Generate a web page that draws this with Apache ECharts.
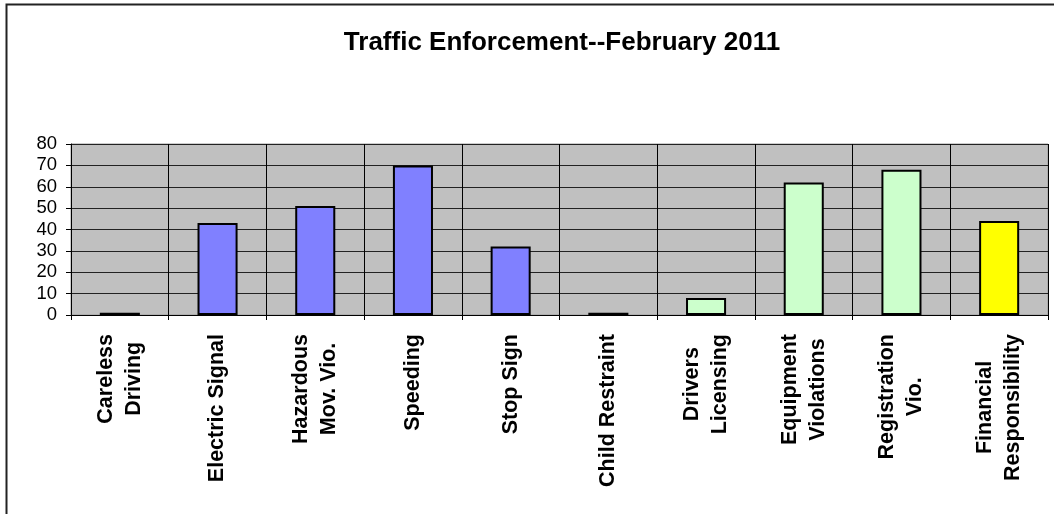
<!DOCTYPE html>
<html>
<head>
<meta charset="utf-8">
<script src="https://cdn.jsdelivr.net/npm/echarts@6/dist/echarts.min.js"></script>
<style>
  html, body { margin: 0; padding: 0; background: #fff; }
  #chart { width: 1054px; height: 514px; }
</style>
</head>
<body>
<div id="chart"></div>
<script>
const titleText = 'Traffic Enforcement--February 2011';
const categories = [
  'Careless\nDriving', 'Electric Signal', 'Hazardous\nMov. Vio.', 'Speeding', 'Stop Sign',
  'Child Restraint', 'Drivers\nLicensing', 'Equipment\nViolations', 'Registration\nVio.', 'Financial\nResponsibility'
];
const values = [1, 43, 51, 70, 32, 1, 8, 62, 68, 44];
const groups = ['moving', 'moving', 'moving', 'moving', 'moving', 'moving', 'equipment', 'equipment', 'equipment', 'financial'];
const yTicks = [0, 10, 20, 30, 40, 50, 60, 70, 80];

const groupColors = { moving: '#8080FF', equipment: '#CCFFCC', financial: '#FFFF00' };

const chart = echarts.init(document.getElementById('chart'), null, { renderer: 'canvas' });
const FONT = '"Liberation Sans", Arial, sans-serif';

chart.setOption({
  animation: false,
  backgroundColor: '#ffffff',
  title: {
    text: titleText,
    left: 557,
    top: 25,
    textAlign: 'center',
    textStyle: { fontFamily: FONT, fontSize: 26, fontWeight: 'bold', color: '#000' }
  },
  graphic: [{
    type: 'rect',
    shape: { x: 6.5, y: 4.5, width: 1200, height: 700 },
    style: { fill: 'none', stroke: '#222', lineWidth: 2 },
    silent: true, z: 100
  }],
  grid: {
    left: 71, right: 6, top: 144, bottom: 199,
    show: true, backgroundColor: '#C0C0C0', borderColor: '#9a9a9a', borderWidth: 1
  },
  xAxis: {
    type: 'category',
    data: categories,
    boundaryGap: true,
    axisLine: { show: true, lineStyle: { color: '#000', width: 1 } },
    axisTick: { show: true, length: 5, lineStyle: { color: '#000' } },
    splitLine: { show: true, lineStyle: { color: '#000', width: 1 } },
    axisLabel: {
      interval: 0,
      rotate: 90,
      margin: 19,
      formatter: function (v) {
        return v.split('\n').map(function (s) { return '{c|' + s + '}'; }).join('\n');
      },
      rich: {
        c: { align: 'center', fontFamily: FONT, fontSize: 21.5, fontWeight: 'bold', color: '#000', lineHeight: 28 }
      }
    }
  },
  yAxis: {
    type: 'value',
    min: yTicks[0],
    max: yTicks[yTicks.length - 1],
    interval: 10,
    axisLine: { show: true, lineStyle: { color: '#000', width: 1 } },
    axisTick: { show: true, length: 5, lineStyle: { color: '#000' } },
    splitLine: { show: true, lineStyle: { color: '#222', width: 1 } },
    axisLabel: { margin: 14, fontFamily: FONT, fontSize: 18.5, color: '#000' }
  },
  series: [{
    type: 'bar',
    data: values.map(function (v, i) {
      return { value: v, itemStyle: { color: groupColors[groups[i]] } };
    }),
    barWidth: '41%',
    itemStyle: { borderColor: '#000', borderWidth: 2 }
  }]
});
</script>
</body>
</html>
